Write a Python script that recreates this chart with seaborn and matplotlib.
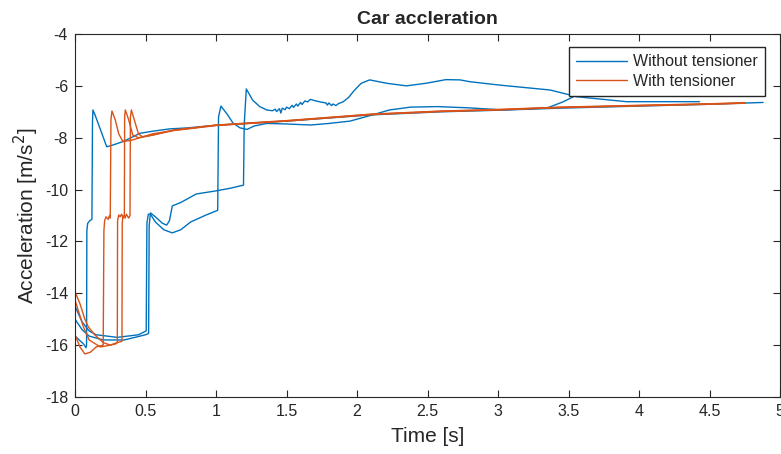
import pandas as pd
import matplotlib
matplotlib.use("Agg")
import matplotlib.pyplot as plt
import seaborn as sns

# ---- data (time [s], acceleration [m/s^2]) ----
# without tensioner, run 1 (early jump, then follows the common trend)
b1_t = [0, 0.03, 0.06, 0.078, 0.082, 0.084, 0.09, 0.105, 0.12, 0.124, 0.127,
        0.142, 0.19, 0.225, 0.27, 0.34, 0.39, 0.46, 0.55, 0.67, 0.8, 1.0,
        1.5, 2.1, 2.6, 3.0, 3.44, 4.0, 4.5, 4.88]
b1_a = [-15.65, -15.8, -15.95, -16.1, -16.0, -11.6, -11.3, -11.2, -11.15, -7.4, -6.93,
        -7.12, -7.83, -8.35, -8.28, -8.15, -8.02, -7.83, -7.75, -7.66, -7.62, -7.52,
        -7.36, -7.12, -7.0, -6.94, -6.86, -6.78, -6.71, -6.64]

# without tensioner, run 2 (jumps at 0.51 s and 1.02 s)
b2_t = [0, 0.05, 0.1, 0.15, 0.3, 0.45, 0.505, 0.51, 0.52, 0.535, 0.57, 0.63,
        0.69, 0.75, 0.82, 0.93, 1.012, 1.018, 1.035, 1.08, 1.12, 1.17, 1.22,
        1.27, 1.36, 1.5, 1.67, 1.8, 1.95, 2.09, 2.23, 2.38, 2.57, 2.8, 3.04,
        3.35, 3.46, 3.56, 3.7, 3.85]
b2_a = [-14.5, -15.1, -15.45, -15.6, -15.7, -15.6, -15.45, -11.3, -10.95, -10.95, -11.25, -11.55,
        -11.67, -11.55, -11.25, -10.98, -10.8, -7.2, -6.78, -7.1, -7.43, -7.62, -7.68,
        -7.55, -7.45, -7.47, -7.51, -7.45, -7.36, -7.15, -6.93, -6.82, -6.8, -6.85, -6.93,
        -6.85, -6.62, -6.35, -6.15, -6.1]

# without tensioner, run 3 (jumps at 0.53 s and 1.2 s, upper curve)
b3_t = [0, 0.05, 0.1, 0.2, 0.35, 0.5, 0.522, 0.526, 0.535, 0.57, 0.62, 0.65, 0.67,
        0.69, 0.75, 0.86, 1.0, 1.1, 1.195, 1.2, 1.215, 1.26, 1.31, 1.36,
        1.40, 1.42, 1.43, 1.45, 1.46, 1.47, 1.49, 1.50, 1.52, 1.54, 1.55, 1.57,
        1.58, 1.60, 1.61, 1.63, 1.65, 1.67, 1.70, 1.74, 1.78, 1.79, 1.80, 1.82,
        1.83, 1.85, 1.87, 1.90, 1.94, 1.98, 2.03, 2.09, 2.21, 2.35, 2.49, 2.63,
        2.73, 2.80, 3.01, 3.37, 3.56, 3.91, 4.43]
b3_a = [-15.0, -15.4, -15.65, -15.8, -15.8, -15.6, -15.55, -11.4, -10.9, -11.05, -11.3, -11.37, -11.2,
        -10.63, -10.5, -10.17, -10.05, -9.95, -9.83, -7.5, -6.12, -6.55, -6.8, -6.93,
        -6.96, -6.9, -6.99, -6.88, -7.05, -6.86, -6.92, -6.82, -6.88, -6.75, -6.83, -6.7,
        -6.78, -6.64, -6.72, -6.58, -6.62, -6.52, -6.57, -6.62, -6.66, -6.74, -6.66, -6.76,
        -6.7, -6.76, -6.68, -6.62, -6.45, -6.18, -5.9, -5.77, -5.9, -6.0, -5.9, -5.76,
        -5.77, -5.84, -5.97, -6.16, -6.42, -6.61, -6.61]

# with tensioner, run 1
o1_t = [0, 0.035, 0.07, 0.11, 0.15, 0.2, 0.205, 0.21, 0.22, 0.235, 0.245, 0.25,
        0.255, 0.262, 0.285, 0.31, 0.34, 0.4, 0.55, 0.7, 0.8, 1.0, 1.5, 2.1,
        2.6, 3.0, 3.44, 4.0, 4.5, 4.75]
o1_a = [-15.6, -16.07, -16.34, -16.27, -16.07, -16.0, -11.6, -11.2, -11.05, -11.15, -11.0, -11.1,
        -7.3, -6.97, -7.3, -7.85, -8.15, -8.1, -7.85, -7.72, -7.65, -7.52, -7.35, -7.1,
        -6.98, -6.92, -6.83, -6.76, -6.7, -6.66]

# with tensioner, run 2
o2_t = [0, 0.035, 0.07, 0.095, 0.14, 0.2, 0.25, 0.29, 0.3, 0.302, 0.31, 0.32, 0.33,
        0.34, 0.35, 0.352, 0.357, 0.38, 0.41, 0.45, 0.55, 0.7, 0.8, 1.0, 1.5,
        2.1, 2.6, 3.0, 3.44, 4.0, 4.5, 4.75]
o2_a = [-13.94, -14.4, -15.0, -15.3, -15.6, -15.9, -16.0, -15.95, -15.9, -11.2, -10.98, -11.05, -10.95,
        -11.1, -11.0, -7.2, -6.93, -7.3, -7.9, -8.0, -7.9, -7.7, -7.64, -7.51, -7.34,
        -7.09, -6.97, -6.91, -6.82, -6.75, -6.69, -6.65]

# with tensioner, run 3
o3_t = [0, 0.06, 0.1, 0.18, 0.25, 0.3, 0.333, 0.335, 0.34, 0.355, 0.365, 0.38,
        0.39, 0.393, 0.40, 0.42, 0.45, 0.48, 0.55, 0.7, 0.8, 1.0, 1.5, 2.1,
        2.6, 3.0, 3.44, 4.0, 4.5, 4.75]
o3_a = [-14.26, -15.3, -15.8, -16.07, -16.0, -15.9, -15.85, -11.3, -11.0, -11.1, -10.95, -11.1,
        -11.0, -7.2, -6.93, -7.3, -7.85, -7.97, -7.9, -7.72, -7.66, -7.53, -7.36, -7.11,
        -6.99, -6.93, -6.84, -6.77, -6.71, -6.67]

labels = ["Without tensioner", "With tensioner"]
colors = ["#0072BD", "#D95319"]

runs = [
    (labels[0], "b1", b1_t, b1_a),
    (labels[0], "b2", b2_t, b2_a),
    (labels[0], "b3", b3_t, b3_a),
    (labels[1], "o1", o1_t, o1_a),
    (labels[1], "o2", o2_t, o2_a),
    (labels[1], "o3", o3_t, o3_a),
]
frames = []
for cond, run, t, a in runs:
    frames.append(pd.DataFrame({"time": t, "accel": a, "condition": cond, "run": run}))
df = pd.concat(frames, ignore_index=True)

sns.set_style("ticks")
plt.rcParams["font.family"] = ["Liberation Sans", "DejaVu Sans"]
plt.rcParams["axes.unicode_minus"] = False

fig = plt.figure(figsize=(7.81, 4.54), dpi=100)
ax = fig.add_axes([75 / 781, 57 / 454, 705 / 781, 363 / 454])

sns.lineplot(data=df, x="time", y="accel", hue="condition", units="run",
             estimator=None, sort=False, palette=colors, hue_order=labels,
             linewidth=1.0, ax=ax)

ax.set_xlim(0, 5)
ax.set_ylim(-18, -4)
ax.set_xticks([0, 0.5, 1, 1.5, 2, 2.5, 3, 3.5, 4, 4.5, 5])
ax.set_xticklabels(["0", "0.5", "1", "1.5", "2", "2.5", "3", "3.5", "4", "4.5", "5"])
ax.set_yticks(range(-18, -3, 2))
ax.tick_params(direction="in", length=5, width=0.8, colors="#262626",
               labelsize=11.5, top=True, right=True, pad=5)
for s in ax.spines.values():
    s.set_color("#262626")
    s.set_linewidth(0.8)

ax.set_xlabel("Time [s]", fontsize=15, labelpad=6)
ax.set_ylabel("Acceleration [m/s$^2$]", fontsize=15, labelpad=3)
ax.set_title("Car accleration", fontsize=14, fontweight="bold", pad=7)

handles, labs = ax.get_legend_handles_labels()
ax.legend(handles, labs, loc="upper right", bbox_to_anchor=(0.979, 0.964),
          borderaxespad=0, fancybox=False, framealpha=1, edgecolor="#262626",
          fontsize=11.5, handlelength=3.2, handletextpad=0.4, labelspacing=0.3,
          borderpad=0.45)

fig.savefig("out.png", dpi=100)
